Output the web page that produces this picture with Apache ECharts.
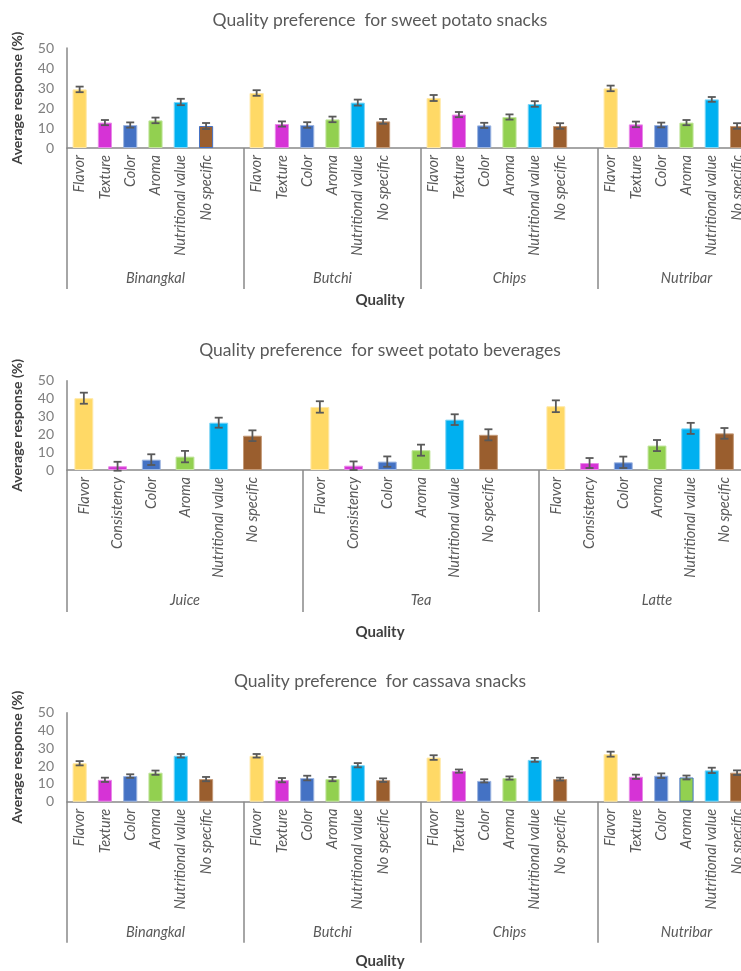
<!DOCTYPE html>
<html>
<head>
<meta charset="utf-8">
<script src="https://cdn.jsdelivr.net/npm/echarts@6/dist/echarts.min.js"></script>
<style>
    html, body { margin: 0; padding: 0; overflow: hidden; background: #fff; }
    #chartView { width: 760px; height: 971px; }
</style>
</head>
<body>
<div id="chartView"></div>
<script>
    // ---- data ----
    var snackGroups = ['Binangkal', 'Butchi', 'Chips', 'Nutribar'];
    var beverageGroups = ['Juice', 'Tea', 'Latte'];
    var snackQualities = ['Flavor', 'Texture', 'Color', 'Aroma', 'Nutritional value', 'No specific'];
    var beverageQualities = ['Flavor', 'Consistency', 'Color', 'Aroma', 'Nutritional value', 'No specific'];

    var sweetPotatoSnackValues = [
        [29.3, 12.7, 11.5, 13.8, 23.0, 11.0],
        [27.5, 12.0, 11.5, 14.3, 22.7, 13.3],
        [25.0, 16.7, 11.3, 15.5, 22.0, 11.0],
        [29.8, 11.8, 11.5, 12.7, 24.3, 11.0]
    ];
    var sweetPotatoSnackErrors = [
        [1.4, 1.3, 1.3, 1.4, 1.6, 1.5],
        [1.4, 1.3, 1.4, 1.4, 1.5, 1.2],
        [1.5, 1.3, 1.3, 1.3, 1.4, 1.4],
        [1.4, 1.4, 1.2, 1.3, 1.2, 1.4]
    ];
    var beverageValues = [
        [40.2, 2.1, 5.8, 7.5, 26.5, 19.2],
        [35.3, 2.4, 4.7, 11.1, 28.2, 19.7],
        [35.7, 3.9, 4.3, 13.7, 23.3, 20.5]
    ];
    var beverageErrors = [
        [3.1, 2.5, 3.0, 3.2, 2.8, 3.0],
        [3.2, 2.4, 2.9, 3.1, 3.0, 3.1],
        [3.3, 2.8, 3.2, 3.1, 3.1, 3.0]
    ];
    var cassavaSnackValues = [
        [21.6, 12.3, 14.4, 16.3, 25.8, 12.7],
        [25.8, 12.1, 13.3, 12.7, 20.5, 12.1],
        [24.8, 17.2, 11.7, 13.3, 23.5, 12.7],
        [26.7, 14.0, 14.6, 13.6, 17.6, 16.3]
    ];
    var cassavaSnackErrors = [
        [1.2, 1.2, 1.0, 1.2, 1.0, 1.2],
        [1.0, 1.2, 1.3, 1.2, 1.2, 1.0],
        [1.3, 0.9, 0.9, 0.9, 1.1, 0.8],
        [1.4, 1.2, 1.3, 1.1, 1.5, 1.3]
    ];
    var yTicks = [0, 10, 20, 30, 40, 50];

    var theColors = ['#FFD966', '#D633D6', '#4472C4', '#92D050', '#00B0F0', '#9A5E2E'];
    var theEdges = ['#FFE8A6', '#E88AE8', '#9DB5E0', '#C3E59E', '#7FD5F5', '#C49A78'];
    var axisGray = '#898989';
    var textGray = '#595959';
    var theFont = 'Lato';

    var panels = [
        {title: 'Quality preference  for sweet potato snacks', groups: snackGroups, qualities: snackQualities,
            values: sweetPotatoSnackValues, errors: sweetPotatoSnackErrors, blueEdge: [[0, 5]],
            top: 48, height: 100, titleTop: 11, qualityTop: 293, sepLen: 141},
        {title: 'Quality preference  for sweet potato beverages', groups: beverageGroups, qualities: beverageQualities,
            values: beverageValues, errors: beverageErrors, blueEdge: [],
            top: 380.7, height: 89.3, titleTop: 341, qualityTop: 625, sepLen: 142},
        {title: 'Quality preference  for cassava snacks', groups: snackGroups, qualities: snackQualities,
            values: cassavaSnackValues, errors: cassavaSnackErrors, blueEdge: [[3, 3]],
            top: 712.7, height: 89, titleTop: 672, qualityTop: 954, sepLen: 141}
    ];

    function renderErrorBar(params, api) {
        var x = api.value(0), y = api.value(1), e = api.value(2);
        var hi = api.coord([x, y + e]);
        var lo = api.coord([x, y - e]);
        var w = 4;
        var style = {stroke: '#595959', lineWidth: 1.8};
        return {
            type: 'group', children: [
                {type: 'line', shape: {x1: hi[0], y1: hi[1], x2: lo[0], y2: lo[1]}, style: style},
                {type: 'line', shape: {x1: hi[0] - w, y1: hi[1], x2: hi[0] + w, y2: hi[1]}, style: style},
                {type: 'line', shape: {x1: lo[0] - w, y1: lo[1], x2: lo[0] + w, y2: lo[1]}, style: style}
            ]
        };
    }

    var option = {
        animation: false,
        backgroundColor: '#fff',
        title: [],
        grid: [],
        xAxis: [],
        yAxis: [],
        series: []
    };

    panels.forEach(function (p, idx) {
        var cats = [], bars = [], errs = [];
        p.groups.forEach(function (g, gi) {
            p.qualities.concat(['']).forEach(function (q, qi) {
                cats.push(g + '|' + q + '|' + qi);
                if (qi < p.qualities.length) {
                    var edge = theEdges[qi];
                    p.blueEdge.forEach(function (b) {
                        if (b[0] === gi && b[1] === qi) edge = '#4472C4';
                    });
                    bars.push({
                        value: p.values[gi][qi],
                        itemStyle: {color: theColors[qi], borderColor: edge, borderWidth: 1}
                    });
                    errs.push([cats.length - 1, p.values[gi][qi], p.errors[gi][qi]]);
                } else {
                    bars.push('-');
                }
            });
        });

        option.title.push({
            text: p.title, left: 'center', top: p.titleTop, padding: 0,
            textStyle: {fontFamily: theFont, fontSize: 17.5, fontWeight: 'normal', color: textGray}
        });
        option.title.push({
            text: 'Quality', left: 'center', top: p.qualityTop, padding: 0,
            textStyle: {fontFamily: theFont, fontSize: 15, fontWeight: 'bold', color: '#404040'}
        });

        option.grid.push({
            left: 67, width: 708, top: p.top, height: p.height,
            containLabel: false, outerBoundsMode: 'none'
        });

        option.xAxis.push({
            type: 'category', gridIndex: idx, position: 'bottom', data: cats,
            axisLine: {show: true, lineStyle: {color: axisGray, width: 1.5}},
            axisTick: {show: false},
            splitLine: {show: false},
            axisLabel: {
                interval: 0, rotate: 90, margin: 7,
                fontFamily: theFont, fontSize: 14.5, fontStyle: 'italic', color: textGray,
                formatter: function (v) { return v.split('|')[1]; }
            }
        });
        option.xAxis.push({
            type: 'category', gridIndex: idx, position: 'bottom', data: p.groups,
            axisLine: {show: false},
            axisTick: {show: true, length: p.sepLen, lineStyle: {color: axisGray, width: 1.5}},
            splitLine: {show: false},
            axisLabel: {
                interval: 0, margin: 123,
                fontFamily: theFont, fontSize: 14.5, fontStyle: 'italic', color: textGray
            }
        });

        option.yAxis.push({
            type: 'value', gridIndex: idx, min: yTicks[0], max: yTicks[yTicks.length - 1],
            interval: yTicks[1] - yTicks[0],
            name: 'Average response (%)', nameLocation: 'middle', nameGap: 43, nameRotate: 90,
            nameTextStyle: {fontFamily: theFont, fontSize: 14, fontWeight: 'bold', color: '#404040'},
            axisLine: {show: true, lineStyle: {color: axisGray, width: 1.5}},
            axisTick: {show: false},
            splitLine: {show: false},
            axisLabel: {fontFamily: theFont, fontSize: 14, color: '#7F7F7F', margin: 13}
        });

        option.series.push({
            type: 'bar', xAxisIndex: idx * 2, yAxisIndex: idx,
            barWidth: '56%', data: bars
        });
        option.series.push({
            type: 'custom', xAxisIndex: idx * 2, yAxisIndex: idx,
            renderItem: renderErrorBar, encode: {x: 0, y: 1}, z: 5, data: errs
        });
    });

    var chartView = echarts.init(document.getElementById('chartView'));
    chartView.setOption(option);
</script>
</body>
</html>
